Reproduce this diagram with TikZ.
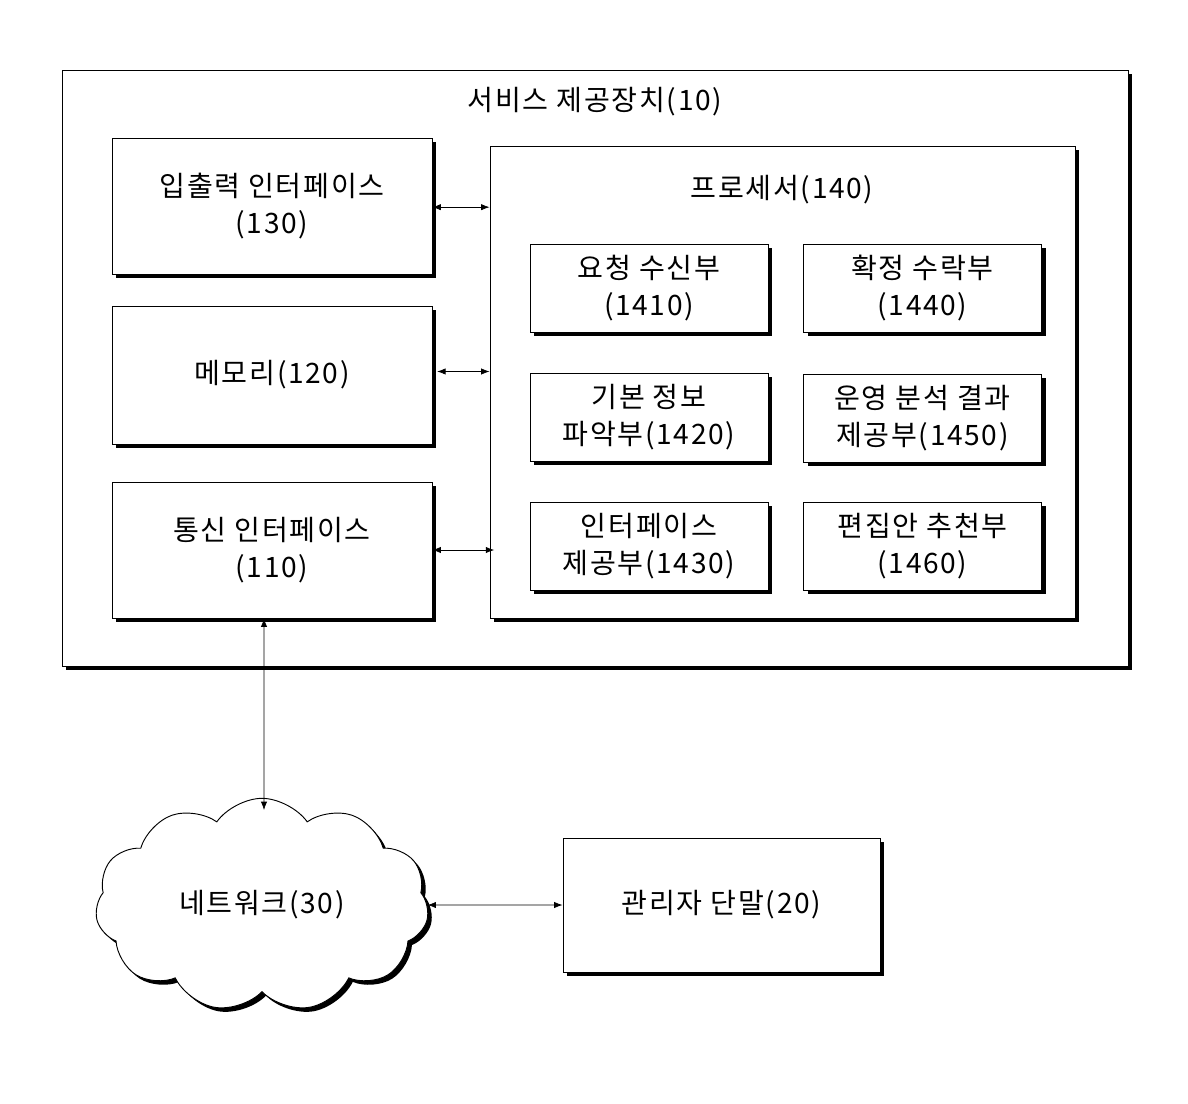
\documentclass[tikz,border=0pt]{standalone}
\usepackage{fontspec}
\setmainfont{Noto Sans CJK KR}[LetterSpace=6]
\usetikzlibrary{arrows.meta,shadows,shapes.symbols}
\tikzset{
box/.style = {draw, thick, fill=white, align=center, font=\fontsize{24}{32}\selectfont,
              drop shadow={shadow xshift=0.12cm, shadow yshift=-0.12cm, opacity=1, fill=black}},
inner/.style = {box, minimum width=7.14cm, minimum height=2.64cm},
side/.style = {box, minimum width=9.6cm},
link/.style = {{Latex[length=2.5mm]}-{Latex[length=2.5mm]}, semithick}
}
\begin{document}
\begin{tikzpicture}[x=0.03cm,y=-0.03cm]
    \useasboundingbox (0,0) rectangle (1188,1104);
    % outer device
    \node[box, minimum width=31.98cm, minimum height=17.88cm] (dev) at (595,368) {};
    \node[font=\fontsize{24}{32}\selectfont] (devlbl) at (595,102) {서비스 제공장치(10)};

    \node[side, minimum height=4.08cm] (io) at (272,206) {입출력 인터페이스\\(130)};
    \node[side, minimum height=4.14cm] (mem) at (272,375) {메모리(120)};
    \node[side, minimum height=4.08cm] (comm) at (272,550) {통신 인터페이스\\(110)};

    % processor
    \node[box, minimum width=17.55cm, minimum height=14.16cm] (proc) at (782.5,382) {};
    \node[font=\fontsize{24}{32}\selectfont] (proclbl) at (782,190) {프로세서(140)};
    \node[inner] (req) at (649,288) {요청 수신부\\(1410)};
    \node[inner] (conf) at (922.5,288) {확정 수락부\\(1440)};
    \node[inner] (basic) at (649,417) {기본 정보\\파악부(1420)};
    \node[inner] (anal) at (922.5,418) {운영 분석 결과\\제공부(1450)};
    \node[inner] (ifc) at (649,546) {인터페이스\\제공부(1430)};
    \node[inner] (edit) at (922.5,546) {편집안 추천부\\(1460)};

    \draw[link] ([yshift=-1pt]io.east) -- ([yshift=-1pt]io.east -| proc.west);
    \draw[link] ([xshift=4pt,yshift=3pt]mem.east) -- ([yshift=3pt]mem.east -| proc.west);
    \draw[link] (comm.east) -- ([xshift=4pt]comm.east -| proc.west);

    % network and terminal
    \node[cloud, cloud puffs=11, cloud puff arc=110, aspect=1.6, draw, thick, fill=white,
          minimum width=10cm, minimum height=6.4cm, font=\fontsize{24}{32}\selectfont,
          drop shadow={shadow xshift=0.12cm, shadow yshift=-0.12cm, opacity=1, fill=black}]
          (net) at (262,905) {네트워크(30)};
    \node[box, minimum width=9.51cm, minimum height=4.02cm] (admin) at (721.5,905) {관리자 단말(20)};

    \coordinate (netTop) at (264,810);
    \draw[link] ([xshift=-0.24cm]comm.south) -- (netTop);
    \draw[link] (net.east) -- (admin.west);
\end{tikzpicture}
\end{document}
